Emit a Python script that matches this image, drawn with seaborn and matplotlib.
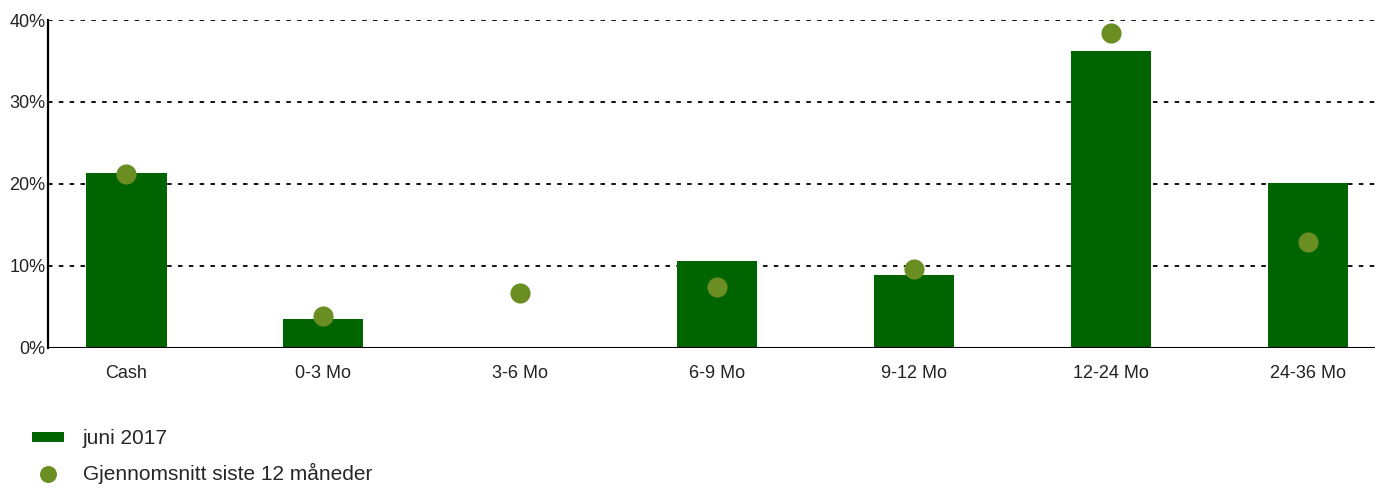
import numpy as np
import pandas as pd
import matplotlib
matplotlib.use("Agg")
import matplotlib.pyplot as plt
import seaborn as sns
from matplotlib.patches import Patch
from matplotlib.lines import Line2D
from matplotlib.ticker import FuncFormatter

# data
categories = ["Cash", "0-3 Mo", "3-6 Mo", "6-9 Mo", "9-12 Mo", "12-24 Mo", "24-36 Mo"]
juni_2017 = [21.3, 3.5, 0.0, 10.6, 8.9, 36.2, 20.1]
snitt_12m = [21.2, 3.9, 6.7, 7.4, 9.6, 38.4, 12.9]
bar_label = "juni 2017"
dot_label = "Gjennomsnitt siste 12 måneder"

bar_color = "#006400"
dot_color = "#6b8e23"

df = pd.DataFrame({"kat": categories, "juni": juni_2017, "snitt": snitt_12m})

sns.set_style("white")
plt.rcParams["font.family"] = ["Liberation Sans", "DejaVu Sans"]

fig = plt.figure(figsize=(13.75, 4.88), dpi=100)
ax = fig.add_axes([0.035, 0.287, 0.965, 0.672])

# grid lines first so bars sit on top
for yv in [10, 20, 30, 40]:
    ax.axhline(yv, color="black", linestyle=(0, (2.5, 3.5)), linewidth=1.3, zorder=0)

sns.barplot(data=df, x="kat", y="juni", color=bar_color, width=0.41,
            saturation=1, ax=ax, zorder=2, linewidth=0)
sns.stripplot(data=df, x="kat", y="snitt", color=dot_color, size=14.5,
              jitter=False, ax=ax, zorder=3, linewidth=0)

ax.axhline(0, color="black", linewidth=1.5, zorder=4)
ax.axhline(0, color="black", linestyle=(0, (2.5, 3.5)), linewidth=1.3, zorder=4)

ax.set_ylim(0, 40)
ax.set_xlim(-0.396, 6.34)
ax.set_yticks([0, 10, 20, 30, 40])
ax.yaxis.set_major_formatter(FuncFormatter(lambda v, p: f"{v:.0f}%"))
ax.set_xlabel("")
ax.set_ylabel("")
ax.tick_params(axis="both", length=0, labelsize=13, colors="#222222")
ax.tick_params(axis="x", pad=12)
ax.tick_params(axis="y", pad=2)

for s in ["top", "right", "bottom"]:
    ax.spines[s].set_visible(False)
ax.spines["left"].set_color("black")
ax.spines["left"].set_linewidth(1.6)

handles = [
    Patch(facecolor=bar_color, edgecolor="none", label=bar_label),
    Line2D([], [], marker="o", linestyle="none", markersize=12.2,
           markerfacecolor=dot_color, markeredgecolor="none", label=dot_label),
]
fig.legend(handles=handles, loc="lower left", bbox_to_anchor=(0.0095, -0.03),
           frameon=False, fontsize=15, handlelength=1.55, handleheight=0.38,
           handletextpad=0.9, labelspacing=0.7)

plt.savefig("out.png", dpi=100)
